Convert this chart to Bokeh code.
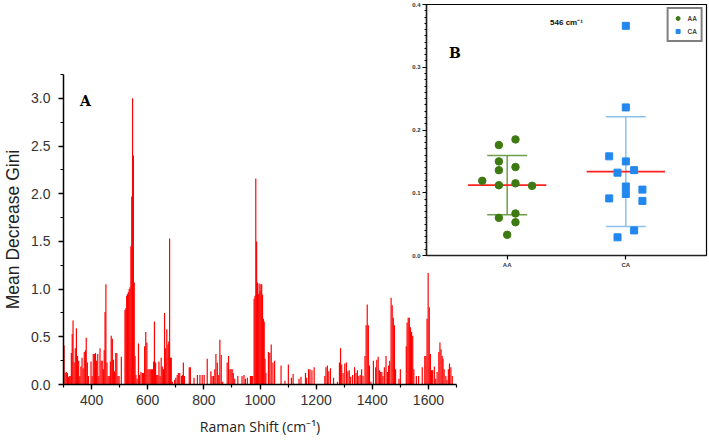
import numpy as np
from bokeh.plotting import figure
from bokeh.models import (Range1d, FixedTicker, SingleIntervalTicker, Label, Legend,
                          LegendItem, GridBox, Column, NumeralTickFormatter, ColumnDataSource)
from bokeh.embed import file_html
from bokeh.resources import INLINE

# ---------------- Panel A data: Mean Decrease Gini per Raman shift ----------------
shift = [302, 306, 310, 314, 318, 322, 326, 328, 331, 334, 338, 342, 346, 350, 354, 358,
         362, 366, 370, 374, 378, 381, 385, 389, 398, 402, 406, 410, 414, 418, 422, 426,
         430, 434, 438, 442, 445, 448, 451, 455, 459, 463, 467, 470, 474, 478, 482, 486,
         490, 494, 498, 506, 519, 522, 525, 528, 531, 534, 537, 540, 543, 546, 549, 552,
         555, 558, 562, 567, 571, 576, 581, 585, 589, 593, 597, 601, 605, 609, 613, 617,
         621, 624, 628, 632, 636, 640, 644, 648, 652, 656, 660, 664, 668, 672, 675, 678,
         681, 684, 688, 696, 700, 705, 709, 714, 720, 724, 727, 731, 748, 752, 765, 777,
         786, 794, 801, 812, 825, 829, 834, 839, 843, 848, 853, 857, 862, 867, 883, 888,
         893, 897, 901, 905, 910, 921, 936, 943, 948, 955, 966, 970, 974, 979, 982, 985,
         988, 991, 994, 997, 1000, 1003, 1006, 1009, 1012, 1015, 1018, 1021, 1030, 1035,
         1040, 1046, 1052, 1075, 1089, 1101, 1112, 1118, 1139, 1146, 1162, 1166, 1173, 1178,
         1185, 1193, 1231, 1235, 1240, 1245, 1251, 1262, 1276, 1283, 1287, 1291, 1296, 1302,
         1308, 1313, 1318, 1323, 1330, 1337, 1342, 1347, 1352, 1357, 1362, 1367, 1374, 1378,
         1382, 1386, 1390, 1395, 1404, 1412, 1416, 1421, 1426, 1430, 1434, 1438, 1443, 1449,
         1454, 1458, 1462, 1467, 1471, 1475, 1479, 1483, 1495, 1500, 1521, 1524, 1528, 1532,
         1536, 1540, 1544, 1548, 1557, 1565, 1578, 1587, 1591, 1595, 1599, 1603, 1607, 1611,
         1615, 1621, 1626, 1631, 1637, 1641, 1645, 1649, 1652, 1656, 1662, 1666, 1671, 1675,
         1680, 1685]
gini = [0.41, 0.12, 0.13, 0.12, 0.08, 0.09, 0.09, 0.33, 0.53, 0.67, 0.23, 0.38, 0.59, 0.30, 0.25, 0.09,
        0.19, 0.28, 0.17, 0.34, 0.36, 0.49, 0.23, 0.09, 0.24, 0.09, 0.32, 0.32, 0.33, 0.25, 0.32, 0.09,
        0.38, 0.25, 0.25, 0.16, 0.36, 0.76, 1.05, 0.23, 0.09, 0.09, 0.24, 0.51, 0.48, 0.26, 0.14, 0.33,
        0.33, 0.09, 0.09, 0.29, 0.78, 0.80, 0.93, 0.95, 0.97, 1.00, 1.02, 1.45, 1.97, 3.00, 2.40, 1.07,
        0.30, 0.10, 0.06, 0.43, 0.10, 0.13, 0.12, 0.12, 0.40, 0.55, 0.44, 0.16, 0.16, 0.16, 0.16, 0.16,
        0.24, 0.66, 0.23, 0.10, 0.10, 0.24, 0.09, 0.28, 0.19, 0.16, 0.75, 0.38, 0.58, 0.42, 0.45, 1.53,
        0.28, 0.28, 0.03, 0.05, 0.07, 0.10, 0.12, 0.12, 0.09, 0.10, 0.23, 0.09, 0.18, 0.18, 0.07, 0.10,
        0.10, 0.10, 0.10, 0.27, 0.14, 0.09, 0.09, 0.16, 0.32, 0.23, 0.10, 0.47, 0.31, 0.03, 0.23, 0.30,
        0.16, 0.16, 0.16, 0.12, 0.06, 0.09, 0.09, 0.10, 0.06, 0.07, 0.09, 0.09, 0.09, 0.90, 0.93, 2.16,
        1.50, 1.07, 0.95, 1.06, 0.98, 1.05, 1.05, 0.94, 0.69, 0.66, 0.27, 0.12, 0.34, 0.33,
        0.42, 0.23, 0.25, 0.20, 0.04, 0.21, 0.07, 0.11, 0.06, 0.08, 0.12, 0.07, 0.16, 0.16,
        0.15, 0.18, 0.09, 0.18, 0.20, 0.14, 0.17, 0.07, 0.03, 0.23, 0.38, 0.21, 0.12, 0.22,
        0.23, 0.14, 0.15, 0.08, 0.10, 0.18, 0.12, 0.15, 0.09, 0.10, 0.16, 0.09, 0.30, 0.62,
        0.84, 0.62, 0.20, 0.03, 0.25, 0.18, 0.26, 0.29, 0.15, 0.13, 0.13, 0.09, 0.18, 0.30,
        0.13, 0.20, 0.25, 0.91, 0.83, 0.70, 0.62, 0.16, 0.06, 0.16, 0.40, 0.65, 0.70, 0.70,
        0.60, 0.55, 0.51, 0.16, 0.09, 0.09, 0.18, 0.30, 0.30, 0.69, 1.17, 0.81, 0.32, 0.15,
        0.15, 0.19, 0.06, 0.13, 0.34, 0.44, 0.37, 0.30, 0.27, 0.16, 0.09, 0.05, 0.16, 0.22,
        0.18, 0.09]

# ---------------- Panel B data: 546 cm-1 importance per group ----------------
groups = ["AA", "CA"]
aa_pos = [0.79, 0.93, 1.07, 0.93, 0.93, 1.07, 0.93, 1.07, 1.21, 0.93, 1.07, 1.07, 1.00]
aa_val = [0.119, 0.176, 0.185, 0.150, 0.136, 0.141, 0.112, 0.115, 0.111, 0.060, 0.067, 0.053, 0.033]
ca_pos = [2.00, 2.00, 1.86, 2.00, 1.93, 2.07, 2.00, 2.00, 2.14, 1.86, 2.14, 2.07, 1.93]
ca_val = [0.366, 0.236, 0.158, 0.150, 0.132, 0.136, 0.110, 0.098, 0.105, 0.091, 0.087, 0.040, 0.029]

# ================= Main figure (A) =================
main = figure(width=464, height=438, x_range=Range1d(300, 1700), y_range=Range1d(0, 3.25),
              output_backend="svg", toolbar_location=None,
              min_border_left=62, min_border_right=8, min_border_top=74, min_border_bottom=53)
src = ColumnDataSource(dict(shift=shift, gini=gini))
main.vbar(x="shift", top="gini", width=4.2, source=src, fill_color="#ff0000", line_color=None)

main.grid.visible = False
main.outline_line_color = None
main.background_fill_color = "white"
main.xaxis.ticker = SingleIntervalTicker(interval=200, num_minor_ticks=2)
main.yaxis.ticker = SingleIntervalTicker(interval=0.5, num_minor_ticks=2)
main.yaxis.formatter = NumeralTickFormatter(format="0.0")
for ax in (main.xaxis[0], main.yaxis[0]):
    ax.axis_line_width = 1.5
    ax.axis_line_color = "black"
    ax.major_tick_in = 0
    ax.major_tick_out = 5
    ax.minor_tick_in = 0
    ax.minor_tick_out = 3
    ax.major_tick_line_width = 1.3
    ax.minor_tick_line_width = 1.2
    ax.major_label_text_font = "Liberation Sans"
    ax.major_label_text_font_size = "14px"
    ax.major_label_text_color = "#333333"
    ax.axis_label_text_font_style = "normal"
    ax.axis_label_text_color = "#222222"
main.xaxis.major_label_standoff = 5
main.yaxis.major_label_standoff = 8
main.xaxis.axis_label = "Raman Shift (cm\u207b\u00b9)"
main.xaxis.axis_label_text_font = "Open Sans"
main.xaxis.axis_label_text_font_size = "14px"
main.xaxis.axis_label_standoff = 9
main.yaxis.axis_label = "Mean Decrease Gini"
main.yaxis.axis_label_text_font = "Liberation Sans"
main.yaxis.axis_label_text_font_size = "17.5px"
main.yaxis.axis_label_standoff = 5

main.add_layout(Label(x=378, y=2.97, text="A", text_font="DejaVu Serif", text_font_style="bold",
                      text_font_size="14px", text_align="center", text_baseline="middle",
                      text_color="black"))

# ================= Inset figure (B) =================
inset = figure(width=308, height=270, x_range=Range1d(0.32, 2.68), y_range=Range1d(0, 0.4),
               output_backend="svg", toolbar_location=None,
               min_border_left=26, min_border_right=2, min_border_top=4, min_border_bottom=15)
inset.border_fill_alpha = 0
inset.background_fill_color = "white"
inset.grid.visible = False
inset.outline_line_color = "black"
inset.outline_line_width = 1.2

inset.xaxis.ticker = FixedTicker(ticks=[1, 2])
inset.xaxis.major_label_overrides = {1: groups[0], 2: groups[1]}
inset.yaxis.ticker = SingleIntervalTicker(interval=0.1, num_minor_ticks=10)
inset.yaxis.formatter = NumeralTickFormatter(format="0.0")
for ax in (inset.xaxis[0], inset.yaxis[0]):
    ax.axis_line_width = 1.5
    ax.axis_line_color = "#222222"
    ax.major_tick_in = 0
    ax.major_tick_out = 4
    ax.minor_tick_in = 0
    ax.minor_tick_out = 2
    ax.major_tick_line_width = 1.2
    ax.minor_tick_line_width = 1.0
    ax.major_label_text_font = "Liberation Sans"
    ax.major_label_text_font_size = "6px"
    ax.major_label_text_font_style = "bold"
    ax.major_label_text_color = "#333333"
    ax.major_label_standoff = 2

# statistics
groups_x = [1, 2]
means = [float(np.mean(aa_val)), float(np.mean(ca_val))]
sds = [float(np.std(aa_val, ddof=1)), float(np.std(ca_val, ddof=1))]
sd_colors = ["#6e9e4c", "#8ec0ec"]
lo = [m - s for m, s in zip(means, sds)]
hi = [m + s for m, s in zip(means, sds)]
cap = 0.168
half = 0.33

inset.segment(x0=groups_x, y0=lo, x1=groups_x, y1=hi, line_color=sd_colors, line_width=1.5)
inset.segment(x0=[g - cap for g in groups_x], y0=hi, x1=[g + cap for g in groups_x], y1=hi,
              line_color=sd_colors, line_width=1.5)
inset.segment(x0=[g - cap for g in groups_x], y0=lo, x1=[g + cap for g in groups_x], y1=lo,
              line_color=sd_colors, line_width=1.5)
inset.segment(x0=[g - half for g in groups_x], y0=means, x1=[g + half for g in groups_x], y1=means,
              line_color="#ff2020", line_width=1.6)

r_aa = inset.scatter(aa_pos, aa_val, marker="circle", size=7.5, fill_color="#3d7a12",
                     line_color="#3d7a12")
r_ca = inset.scatter(ca_pos, ca_val, marker="square", size=7, fill_color="#2288ee",
                     line_color="#2288ee")

legend = Legend(items=[LegendItem(label=groups[0], renderers=[r_aa]),
                       LegendItem(label=groups[1], renderers=[r_ca])],
                location="top_right", border_line_color="black", border_line_width=2,
                label_text_font="Liberation Sans", label_text_font_size="6.5px",
                label_text_font_style="bold", glyph_width=10, glyph_height=10, label_height=10,
                label_width=9, padding=4, spacing=3, margin=3, label_standoff=5,
                background_fill_color="white")
inset.add_layout(legend)

inset.add_layout(Label(x=1.5, y=0.372, text="546 cm\u207b\u00b9", text_font="Liberation Sans",
                       text_font_style="bold", text_font_size="8px", text_align="center",
                       text_baseline="middle", text_color="#111111"))
inset.add_layout(Label(x=0.56, y=0.322, text="B", text_font="DejaVu Serif", text_font_style="bold",
                       text_font_size="14px", text_align="center", text_baseline="middle",
                       text_color="black"))

inset_box = Column(children=[inset])

grid = GridBox(children=[(main, 0, 0, 2, 2), (inset_box, 0, 1, 1, 1)],
               cols=["400px", "308px"], rows=["270px", "168px"])

open("out.html", "w").write(file_html(grid, INLINE))
